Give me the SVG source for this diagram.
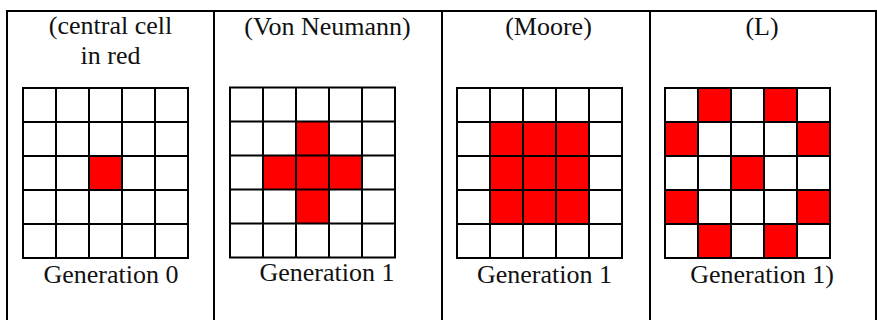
<svg xmlns="http://www.w3.org/2000/svg" xmlns:xlink="http://www.w3.org/1999/xlink" width="877" height="320" viewBox="0 0 877 320">
  <style>
    .t { font-family: "Liberation Serif", "Times New Roman", serif; font-size: 26px; fill: #111; text-anchor: middle; }
    .red { fill: #ff0000; }
    .gl { fill: none; stroke: #000; stroke-width: 2; }
    .tb { fill: none; stroke: #000; stroke-width: 2; }
  </style>
  <defs>
    <symbol id="grid" overflow="visible">
      <path class="gl" d="M0,0H165V170H0Z M33,0V170 M66,0V170 M99,0V170 M132,0V170 M0,34H165 M0,68H165 M0,102H165 M0,136H165"/>
    </symbol>
  </defs>
  <rect width="877" height="320" fill="#fff"/>
  <g id="table">
    <path class="tb" d="M7,330V11H876V330 M214,11V330 M442,11V330 M650,11V330"/>
  </g>
  <g id="col-gen0">
    <text class="t" x="110.5" y="34">(central cell</text>
    <text class="t" x="110.5" y="64">in red</text>
    <g transform="translate(23,88)">
      <rect class="red" x="66" y="68" width="33" height="34"/>
      <use xlink:href="#grid" href="#grid"/>
    </g>
    <text class="t" x="111" y="283">Generation 0</text>
  </g>
  <g id="col-vonneumann">
    <text class="t" x="327.5" y="35">(Von Neumann)</text>
    <g transform="translate(230,87.5)">
      <rect class="red" x="66" y="34" width="33" height="34"/>
      <rect class="red" x="33" y="68" width="99" height="34"/>
      <rect class="red" x="66" y="102" width="33" height="34"/>
      <use xlink:href="#grid" href="#grid"/>
    </g>
    <text class="t" x="327" y="281">Generation 1</text>
  </g>
  <g id="col-moore">
    <text class="t" x="548.5" y="35">(Moore)</text>
    <g transform="translate(457,88)">
      <rect class="red" x="33" y="34" width="99" height="102"/>
      <use xlink:href="#grid" href="#grid"/>
    </g>
    <text class="t" x="544.5" y="283">Generation 1</text>
  </g>
  <g id="col-l">
    <text class="t" x="762" y="35">(L)</text>
    <g transform="translate(665,88)">
      <rect class="red" x="33" y="0" width="33" height="34"/>
      <rect class="red" x="99" y="0" width="33" height="34"/>
      <rect class="red" x="0" y="34" width="33" height="34"/>
      <rect class="red" x="132" y="34" width="33" height="34"/>
      <rect class="red" x="66" y="68" width="33" height="34"/>
      <rect class="red" x="0" y="102" width="33" height="34"/>
      <rect class="red" x="132" y="102" width="33" height="34"/>
      <rect class="red" x="33" y="136" width="33" height="34"/>
      <rect class="red" x="99" y="136" width="33" height="34"/>
      <use xlink:href="#grid" href="#grid"/>
    </g>
    <text class="t" x="762" y="283">Generation 1)</text>
  </g>
</svg>
